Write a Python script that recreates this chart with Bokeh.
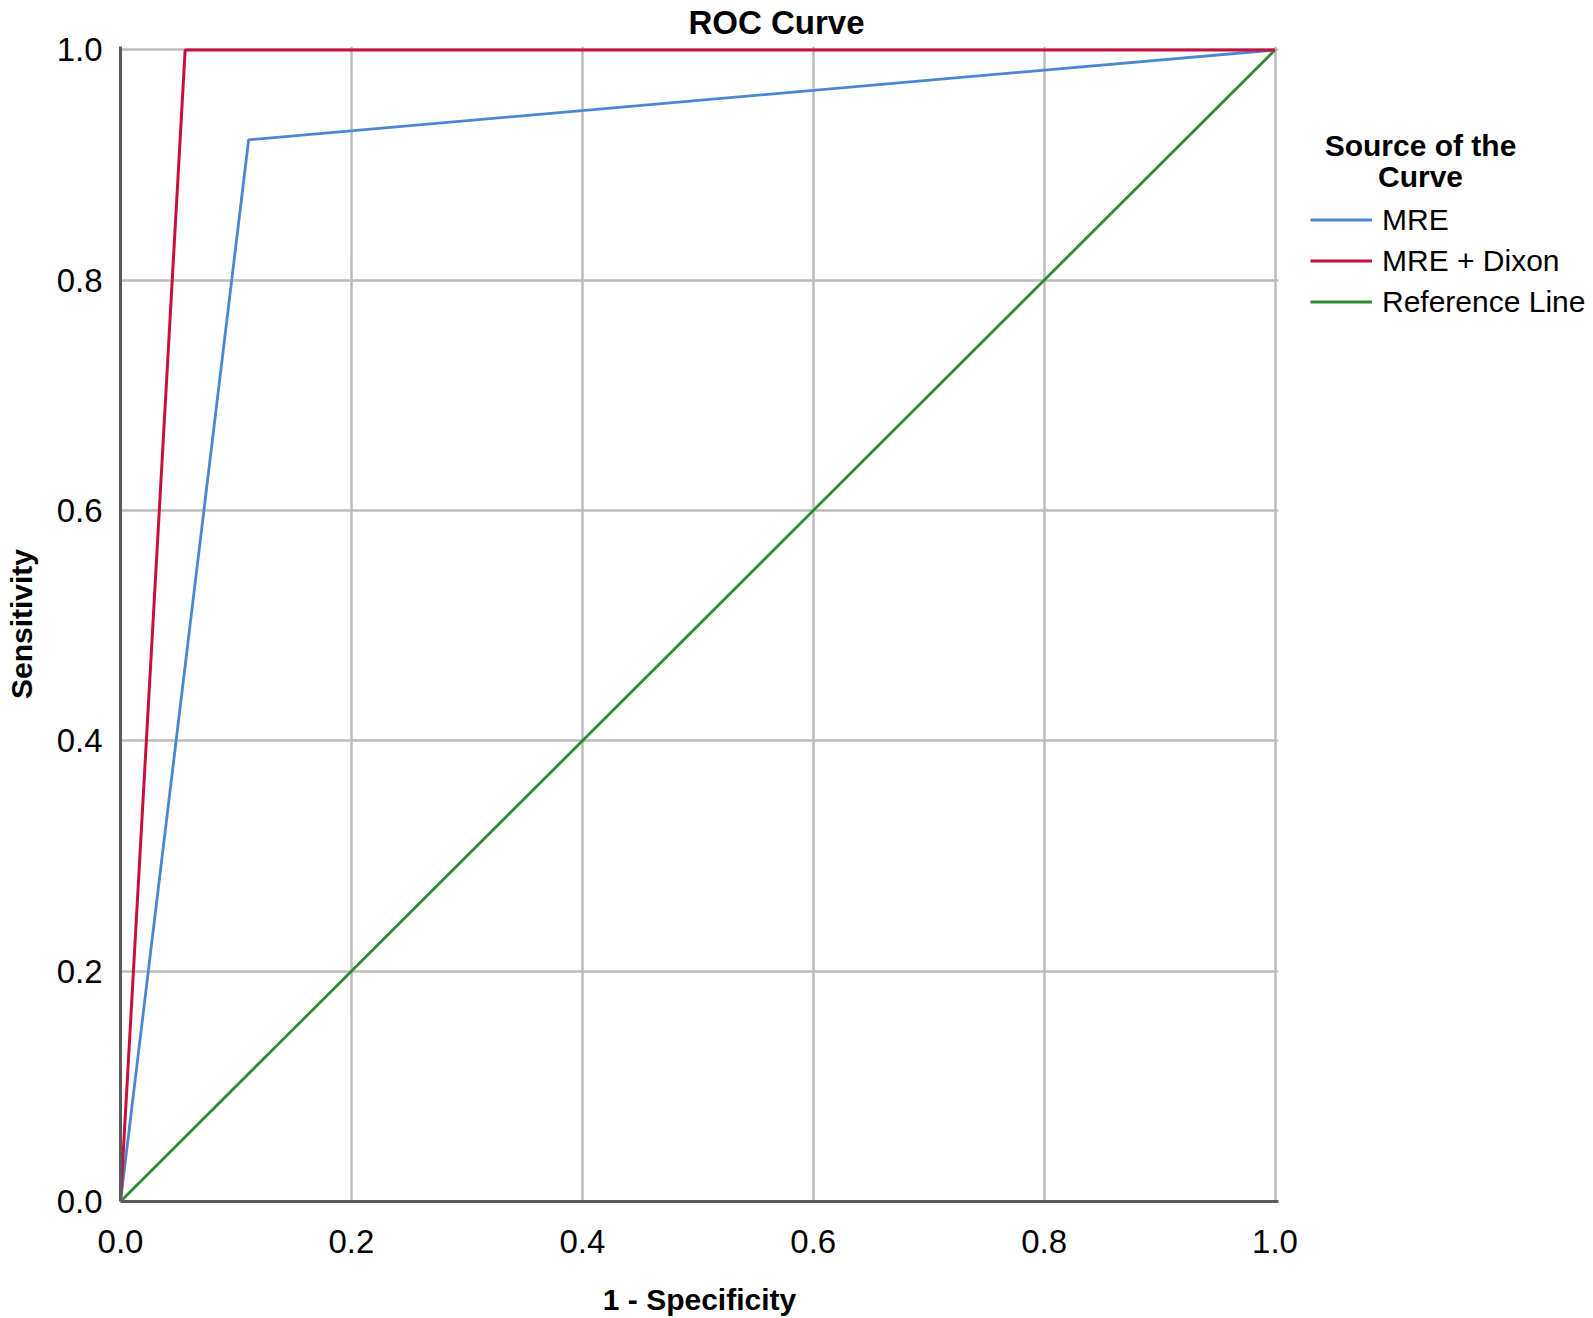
from bokeh.plotting import figure
from bokeh.layouts import row
from bokeh.models import (Range1d, Legend, LegendItem, FixedTicker,
                          PrintfTickFormatter, Label)
from bokeh.embed import file_html
from bokeh.resources import INLINE

# Data
mre_fpr = [0.0, 0.111, 1.0]
mre_tpr = [0.0, 0.922, 1.0]
dixon_fpr = [0.0, 0.056, 1.0]
dixon_tpr = [0.0, 1.0, 1.0]
ref_fpr = [0.0, 1.0]
ref_tpr = [0.0, 1.0]
ticks = [0.0, 0.2, 0.4, 0.6, 0.8, 1.0]
series_names = ["MRE", "MRE + Dixon", "Reference Line"]
legend_title = ["Source of the", "Curve"]
colors = ["#4a86d4", "#c8103e", "#2f8a2f"]

FONT = "Liberation Sans"
W, H = 1593, 1318
PW = 1300
PAD = 0.003
FL, FT, FS = 120, 44, 1158
FB = FT + FS  # frame bottom (page px)

p = figure(width=PW, height=H, output_backend="svg", toolbar_location=None,
           x_range=Range1d(0, 1 + PAD), y_range=Range1d(0, 1 + PAD),
           min_border_left=FL, min_border_top=FT,
           min_border_right=PW - FL - FS, min_border_bottom=H - FB)
p.outline_line_color = None
p.background_fill_color = "white"
p.border_fill_color = "white"

p.title.text = "ROC Curve"
p.title.text_font = FONT
p.title.text_font_style = "bold"
p.title.text_font_size = "33px"
p.title.text_color = "black"
p.title.align = "left"
p.title.vertical_align = "top"
p.title.offset = 568
p.title.standoff = 7
p.title.text_line_height = 0.7

for ax, lab in ((p.xaxis, "1 - Specificity"), (p.yaxis, "Sensitivity")):
    ax.ticker = FixedTicker(ticks=ticks)
    ax.formatter = PrintfTickFormatter(format="%.1f")
    ax.axis_label = lab
    ax.axis_label_text_font = FONT
    ax.axis_label_text_font_style = "bold"
    ax.axis_label_text_font_size = "30px"
    ax.major_label_text_font = FONT
    ax.major_label_text_font_size = "33px"
    ax.major_label_text_color = "black"
    ax.axis_label_text_color = "black"
    ax.major_tick_line_color = None
    ax.minor_tick_line_color = None
    ax.major_tick_in = 0
    ax.major_tick_out = 0
    ax.axis_line_color = "#5a5a5a"
    ax.axis_line_width = 3
p.xaxis.major_label_standoff = 28
p.yaxis.major_label_standoff = 18
p.xaxis.axis_label_standoff = 27
p.yaxis.axis_label_standoff = 16

p.xgrid.grid_line_color = "#bcbcbc"
p.ygrid.grid_line_color = "#bcbcbc"
p.xgrid.grid_line_width = 2.5
p.ygrid.grid_line_width = 2.5

p.line(ref_fpr, ref_tpr, line_color=colors[2], line_width=2.8)
p.line(mre_fpr, mre_tpr, line_color=colors[0], line_width=2.8)
p.line(dixon_fpr, dixon_tpr, line_color=colors[1], line_width=3)

# legend panel (second figure; its frame is aligned with the main frame,
# its data coordinates are page pixels, y downward)
LW = W - PW
p2 = figure(width=LW, height=H, output_backend="svg", toolbar_location=None,
            x_range=Range1d(PW, W), y_range=Range1d(FB, FT),
            x_axis_location=None, y_axis_location=None,
            min_border_left=0, min_border_right=0, min_border_top=0,
            min_border_bottom=0)
p2.outline_line_color = None
p2.xgrid.visible = False
p2.ygrid.visible = False
p2.border_fill_color = "white"

nan = float("nan")
leg_r = [p2.line(x=[nan], y=[nan], line_color=c, line_width=3) for c in colors]
items = [LegendItem(label=n, renderers=[r]) for n, r in zip(series_names, leg_r)]
row_h = 41
legend = Legend(items=items, location=(1310 - PW, FB - 323),
                padding=0, margin=0, spacing=0, glyph_width=62,
                glyph_height=row_h, label_height=row_h, label_standoff=10,
                label_text_font=FONT, label_text_font_size="30px",
                label_text_color="black",
                border_line_color=None, background_fill_alpha=0)
p2.add_layout(legend, "center")

for txt, yy in zip(legend_title, [143, 174]):
    p2.add_layout(Label(x=1420, y=yy, text=txt, text_font=FONT,
                        text_font_style="bold", text_font_size="30px",
                        text_color="black",
                        text_align="center", text_baseline="middle"))

layout = row(p, p2)
open("out.html", "w").write(file_html(layout, INLINE))
